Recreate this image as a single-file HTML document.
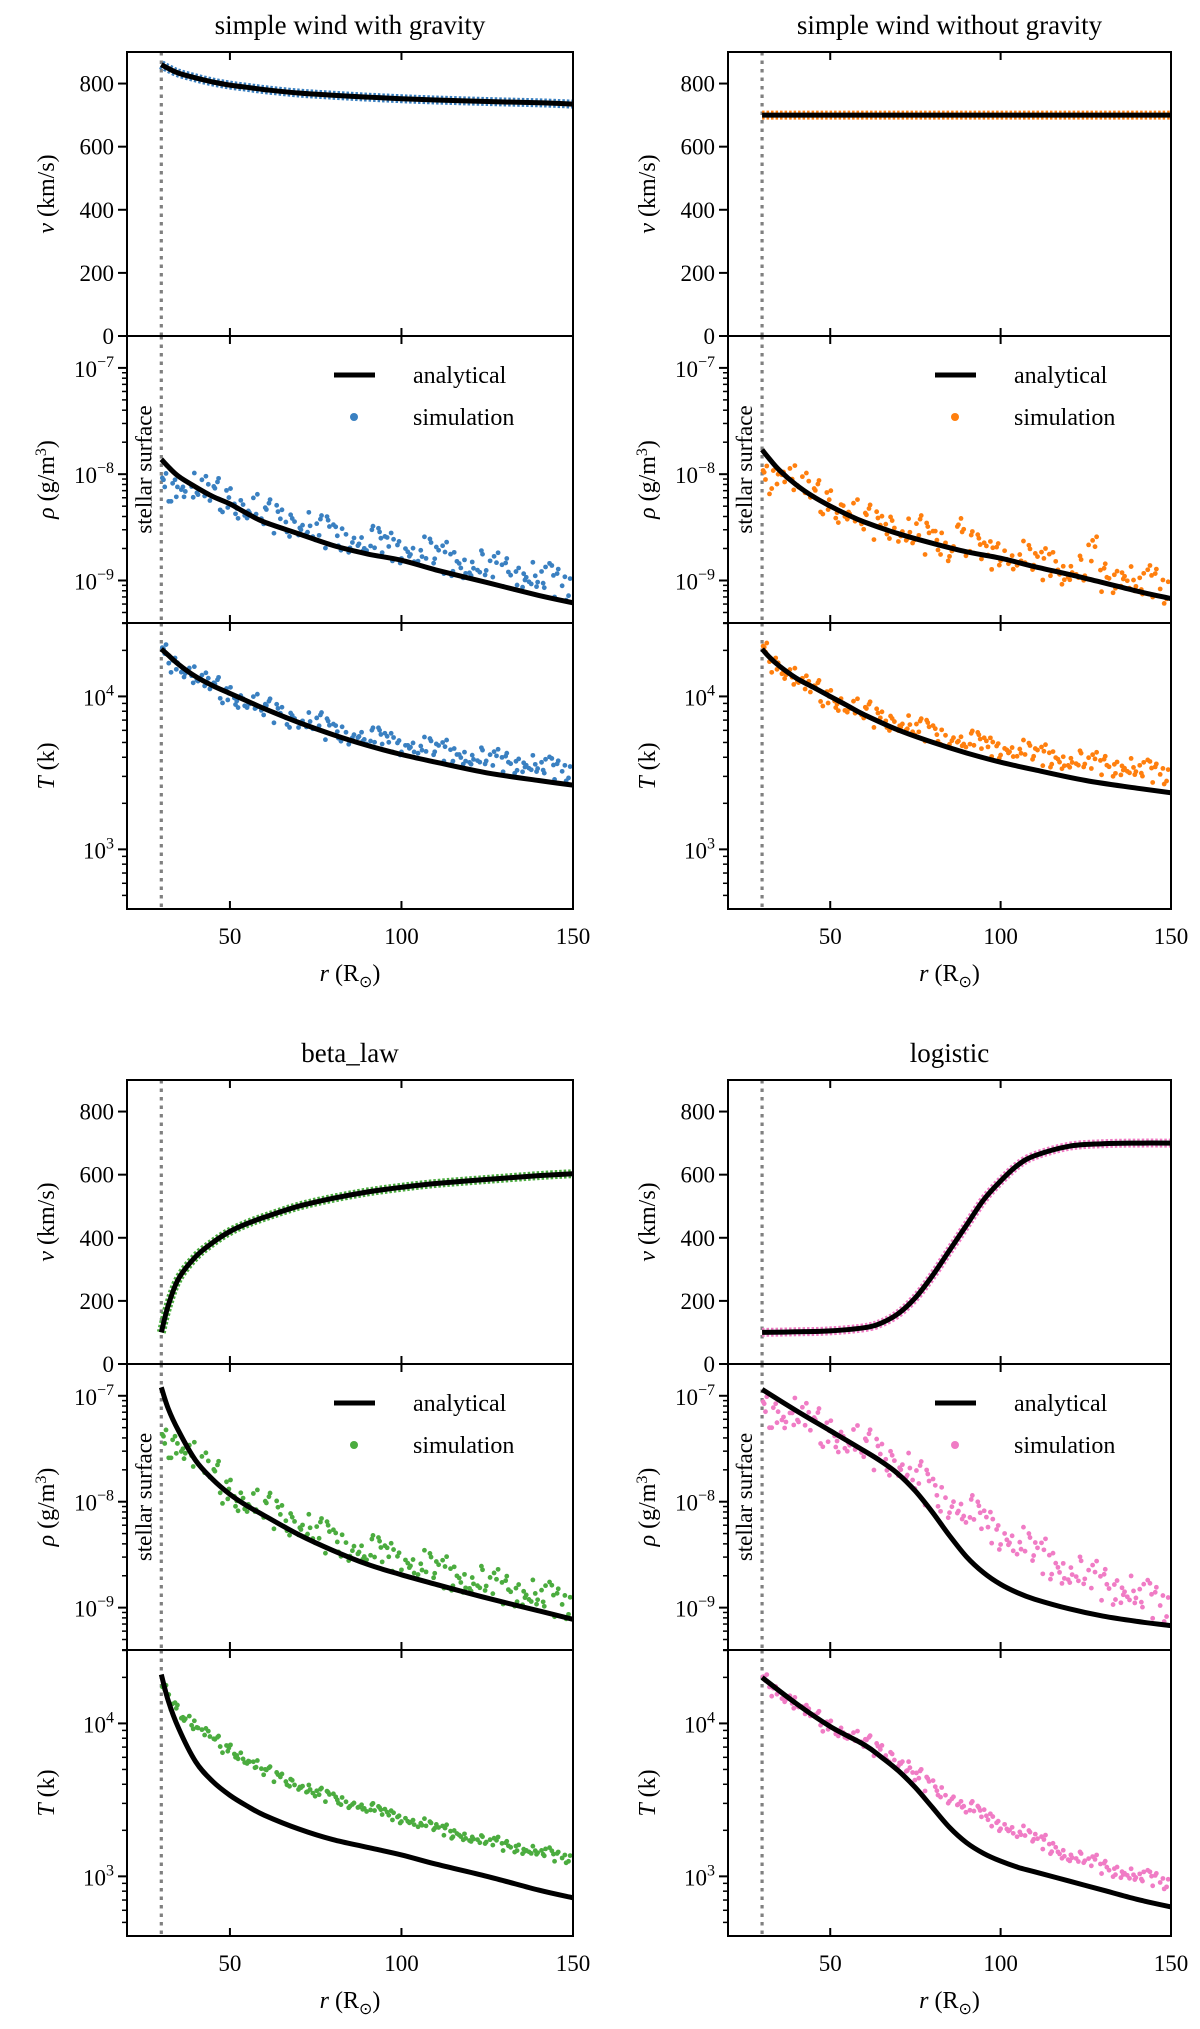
<!DOCTYPE html>
<html><head><meta charset="utf-8"><style>
html,body{margin:0;padding:0;background:#fff}
svg{display:block;font-family:"Liberation Serif",serif}
</style></head><body>
<svg id="fig" width="1200" height="2029" viewBox="0 0 1200 2029" xmlns="http://www.w3.org/2000/svg"></svg>
<script>
// ---------- data ----------
const curveR = [30,32,35,40,45,50,55,60,70,80,90,100,110,125,140,150];
const curveRLogistic = [30,40,50,60,65,70,75,80,85,90,95,100,105,110,120,130,140,150];
// column 1: gravity
const vGrav   = [860,848,833,818,805,795,788,781,770,763,757,752,748,743,739,735];
const rhoGrav = [-7.86,-7.93,-8.02,-8.12,-8.21,-8.28,-8.37,-8.45,-8.56,-8.67,-8.75,-8.81,-8.9,-9.02,-9.14,-9.21];
const tGrav   = [4.31,4.27,4.21,4.13,4.07,4.02,3.97,3.92,3.83,3.75,3.68,3.62,3.57,3.5,3.45,3.42];
// column 2: no gravity
const vNoGrav   = [700,700,700,700,700,700,700,700,700,700,700,700,700,700,700,700];
const rhoNoGrav = [-7.77,-7.85,-7.96,-8.1,-8.21,-8.3,-8.38,-8.45,-8.56,-8.65,-8.73,-8.79,-8.87,-8.98,-9.1,-9.17];
const tNoGrav   = [4.31,4.26,4.2,4.12,4.06,4.0,3.94,3.88,3.78,3.7,3.63,3.57,3.52,3.45,3.4,3.37];
// column 3: beta law
const vBeta   = [100,185,270,340,385,420,445,465,500,525,545,560,572,585,597,603];
const rhoBeta = [-6.92,-7.12,-7.33,-7.61,-7.79,-7.93,-8.04,-8.13,-8.31,-8.46,-8.59,-8.69,-8.78,-8.91,-9.03,-9.11];
const tBeta   = [4.32,4.15,3.97,3.75,3.62,3.53,3.46,3.40,3.31,3.24,3.19,3.14,3.08,3.0,2.91,2.86];
// column 4: logistic (on curveRLogistic)
const vLog   = [100,102,105,115,130,160,210,280,360,440,520,580,630,660,690,698,700,700];
const rhoLog = [-6.94,-7.14,-7.33,-7.52,-7.62,-7.74,-7.9,-8.1,-8.32,-8.52,-8.67,-8.78,-8.86,-8.92,-9.01,-9.08,-9.13,-9.17];
const tLog   = [4.30,4.13,3.98,3.86,3.78,3.69,3.58,3.45,3.32,3.22,3.15,3.10,3.06,3.03,2.97,2.91,2.85,2.80];
// simulation samples
const simR = [31,34,37,40,43,46,49,52,55,58,61,64,67,70,73,76,79,82,85,88,91,94,97,100,103,106,109,112,115,118,121,124,127,130,133,136,139,142,145,148];
const rhoSimGrav = [-8.12,-8.12,-8.12,-8.15,-8.18,-8.2,-8.22,-8.28,-8.32,-8.35,-8.4,-8.42,-8.45,-8.48,-8.52,-8.55,-8.56,-8.58,-8.6,-8.63,-8.65,-8.67,-8.68,-8.7,-8.73,-8.75,-8.77,-8.8,-8.82,-8.84,-8.86,-8.88,-8.9,-8.92,-8.95,-8.97,-8.99,-9.0,-9.02,-9.05];
const rhoSimNoGrav = [-8.05,-8.0,-7.98,-8.08,-8.15,-8.22,-8.24,-8.32,-8.33,-8.4,-8.45,-8.48,-8.47,-8.54,-8.58,-8.55,-8.62,-8.62,-8.68,-8.45,-8.7,-8.73,-8.76,-8.72,-8.8,-8.79,-8.83,-8.86,-8.82,-8.9,-8.9,-8.93,-8.75,-8.97,-8.98,-8.96,-9.03,-9.06,-9.02,-9.08];
const tSimGrav = [4.28,4.22,4.17,4.12,4.08,4.05,4.02,3.99,3.97,3.94,3.91,3.89,3.86,3.84,3.82,3.82,3.78,3.77,3.75,3.75,3.72,3.72,3.70,3.68,3.68,3.66,3.65,3.64,3.62,3.62,3.60,3.59,3.58,3.57,3.56,3.55,3.54,3.53,3.52,3.51];
const tSimNoGrav = [4.29,4.22,4.16,4.11,4.06,4.03,4.0,3.97,3.94,3.91,3.89,3.86,3.84,3.82,3.8,3.78,3.77,3.75,3.73,3.72,3.7,3.69,3.67,3.66,3.65,3.64,3.62,3.61,3.6,3.59,3.58,3.57,3.56,3.55,3.54,3.53,3.52,3.51,3.5,3.49];
const rhoSimBeta = [-7.45,-7.45,-7.5,-7.6,-7.7,-7.78,-7.88,-7.95,-8.0,-8.05,-8.08,-8.12,-8.18,-8.22,-8.28,-8.32,-8.35,-8.38,-8.42,-8.45,-8.48,-8.5,-8.52,-8.55,-8.58,-8.62,-8.65,-8.68,-8.7,-8.72,-8.75,-8.77,-8.8,-8.83,-8.85,-8.88,-8.9,-8.92,-8.95,-8.97];
const tSimBeta = [4.22,4.12,4.04,3.98,3.93,3.88,3.84,3.8,3.76,3.72,3.68,3.65,3.62,3.59,3.56,3.54,3.52,3.5,3.48,3.46,3.44,3.42,3.4,3.38,3.36,3.34,3.32,3.3,3.28,3.27,3.25,3.23,3.22,3.2,3.19,3.17,3.16,3.15,3.13,3.12];
const rhoSimLog = [-7.15,-7.15,-7.2,-7.2,-7.25,-7.3,-7.33,-7.38,-7.42,-7.46,-7.5,-7.55,-7.6,-7.65,-7.72,-7.8,-7.88,-7.94,-8.0,-8.06,-8.12,-8.18,-8.24,-8.3,-8.36,-8.42,-8.48,-8.53,-8.58,-8.62,-8.66,-8.7,-8.74,-8.78,-8.82,-8.85,-8.88,-8.92,-8.95,-8.98];
const tSimLog = [4.28,4.22,4.17,4.12,4.07,4.03,3.99,3.96,3.93,3.9,3.87,3.83,3.79,3.75,3.7,3.65,3.6,3.56,3.52,3.48,3.44,3.41,3.37,3.34,3.31,3.28,3.25,3.22,3.19,3.16,3.13,3.11,3.09,3.06,3.04,3.02,3.0,2.99,2.98,2.96];
const titles = ["simple wind with gravity","simple wind without gravity","beta_law","logistic"];
const xTicks = [50,100,150];
const vTicks = [0,200,400,600,800];

// ---------- layout ----------
const NS="http://www.w3.org/2000/svg";
const svg=document.getElementById('fig');
function el(tag,attrs,parent,text){const e=document.createElementNS(NS,tag);for(const k in attrs)e.setAttribute(k,attrs[k]);if(text!==undefined)e.textContent=text;(parent||svg).appendChild(e);return e;}
const cols=[[127,573],[728,1171]];
const groups=[[52,336,623,909],[1080,1364,1650,1936]];
const X=[20,150], VD=[0,900], RD=[-9.4,-6.7], TD=[2.61,4.48];
const panelsDef=[
 {c:0,g:0,title:titles[0],color:'#3a80c1',r:curveR,v:vGrav,rho:rhoGrav,t:tGrav,rs:rhoSimGrav,ts:tSimGrav,sr:9,st:6},
 {c:1,g:0,title:titles[1],color:'#ff7f0e',r:curveR,v:vNoGrav,rho:rhoNoGrav,t:tNoGrav,rs:rhoSimNoGrav,ts:tSimNoGrav,sr:9,st:6},
 {c:0,g:1,title:titles[2],color:'#4bac3f',r:curveR,v:vBeta,rho:rhoBeta,t:tBeta,rs:rhoSimBeta,ts:tSimBeta,sr:9,st:3},
 {c:1,g:1,title:titles[3],color:'#f07cc5',r:curveRLogistic,v:vLog,rho:rhoLog,t:tLog,rs:rhoSimLog,ts:tSimLog,sr:10,st:4},
];
const JY=[0,-1,0.8,-0.4,1.6,-1.5,0.3,1.1,-0.8,-1.9,0.5];
const JX=[0,1.5,-1.5,2.5,-2.5,0.8,-0.8];

function curvePath(pts){
  let d='M'+pts[0][0].toFixed(1)+','+pts[0][1].toFixed(1);
  for(let i=0;i<pts.length-1;i++){
    const p0=pts[Math.max(0,i-1)],p1=pts[i],p2=pts[i+1],p3=pts[Math.min(pts.length-1,i+2)];
    const c1=[p1[0]+(p2[0]-p0[0])/6,p1[1]+(p2[1]-p0[1])/6];
    const c2=[p2[0]-(p3[0]-p1[0])/6,p2[1]-(p3[1]-p1[1])/6];
    d+=' C'+c1.map(v=>v.toFixed(1)).join(',')+' '+c2.map(v=>v.toFixed(1)).join(',')+' '+p2.map(v=>v.toFixed(1)).join(',');
  }
  return d;
}

panelsDef.forEach((P,pi)=>{
  const [x0,x1]=cols[P.c]; const G=groups[P.g];
  const sx=r=>x0+(r-X[0])/(X[1]-X[0])*(x1-x0);
  const tt=el('text',{x:(x0+x1)/2,y:G[0]-18,'text-anchor':'middle','font-size':27},svg,P.title);
  
  
  const kinds=[['v',VD,P.v,null,0],['rho',RD,P.rho,P.rs,P.sr],['t',TD,P.t,P.ts,P.st]];
  kinds.forEach((K,ki)=>{
    const [kind,D,vals,sim,spread]=K; const top=G[ki], bot=G[ki+1];
    const sy=v=>bot-(v-D[0])/(D[1]-D[0])*(bot-top);
    const g=el('g',{});
    
    
    const clipId='clip'+pi+ki;
    const cp=el('clipPath',{id:clipId},g); el('rect',{x:x0,y:top,width:x1-x0,height:bot-top},cp);
    const sl=el('line',{x1:sx(30),x2:sx(30),y1:top,y2:bot,stroke:'#808080','stroke-width':3.2,'stroke-dasharray':'3.5,5'},g);
    
    
    const data=el('g',{'clip-path':'url(#'+clipId+')'},g);
    const pts=P.r.map((r,i)=>[sx(r),sy(vals[i])]);
    if(kind==='v'){
      const halo=el('path',{d:curvePath(pts),fill:'none',stroke:P.color,'stroke-width':9,'stroke-dasharray':'2.5,2'},data);
      
      
    } else {
      simR.forEach((r,i)=>{
        for(let j=0;j<5;j++){
          const c=el('circle',{cx:sx(r)+JX[(i*2+j*3)%7]*1.6,cy:sy(sim[i])+spread*JY[(i*3+j*4)%11],r:2.4,fill:P.color},data);
          
          
        }
      });
    }
    const line=el('path',{d:curvePath(pts),fill:'none',stroke:'#000','stroke-width':5},data);
    
    
    el('rect',{x:x0,y:top,width:x1-x0,height:bot-top,fill:'none',stroke:'#000','stroke-width':2},g);
    xTicks.forEach(t=>{
      el('line',{x1:sx(t),x2:sx(t),y1:top,y2:top+8,stroke:'#000','stroke-width':2},g);
      el('line',{x1:sx(t),x2:sx(t),y1:bot,y2:bot-8,stroke:'#000','stroke-width':2},g);
    });
    if(kind==='v'){
      vTicks.forEach(t=>{
        el('line',{x1:x0-9,x2:x0,y1:sy(t),y2:sy(t),stroke:'#000','stroke-width':2},g);
        el('text',{x:x0-13,y:sy(t)+8,'text-anchor':'end','font-size':23},g,String(t));
      });
      const yl=el('text',{transform:`translate(${x0-73},${(top+bot)/2}) rotate(-90)`,'text-anchor':'middle','font-size':24},g);
      
      
      el('tspan',{'font-style':'italic'},yl,'v');el('tspan',{},yl,' (km/s)');
    } else {
      const majors = kind==='rho'?[-9,-8,-7]:[3,4];
      for(let n=Math.floor(D[0]);n<=Math.ceil(D[1]);n++){
        for(let m=1;m<10;m++){
          const lv=n+Math.log10(m); if(lv<D[0]||lv>D[1])continue;
          el('line',{x1:x0-(m===1?9:5),x2:x0,y1:sy(lv),y2:sy(lv),stroke:'#000','stroke-width':m===1?2:1.5},g);
        }
      }
      majors.forEach(n=>{
        const tx=el('text',{x:x0-13,y:sy(n)+9,'text-anchor':'end','font-size':23},g);
        el('tspan',{},tx,'10');el('tspan',{dy:-10,'font-size':16},tx,String(n).replace('-','−'));
      });
      const yl=el('text',{transform:`translate(${x0-73},${(top+bot)/2}) rotate(-90)`,'text-anchor':'middle','font-size':24},g);
      
      
      if(kind==='rho'){el('tspan',{'font-style':'italic'},yl,'ρ');el('tspan',{},yl,' (g/m');el('tspan',{dy:-8,'font-size':16},yl,'3');el('tspan',{dy:8},yl,')');}
      else {el('tspan',{'font-style':'italic'},yl,'T');el('tspan',{},yl,' (k)');}
    }
    if(kind==='rho'){
      const st=el('text',{transform:`translate(${sx(30)-10},${(top+bot)/2-10}) rotate(-90)`,'text-anchor':'middle','font-size':23},g,'stellar surface');
      
      
      const lg=el('g',{},g);
      
      
      el('line',{x1:x0+207,x2:x0+248,y1:top+39,y2:top+39,stroke:'#000','stroke-width':5},lg);
      el('text',{x:x0+286,y:top+47,'font-size':24},lg,'analytical');
      el('circle',{cx:x0+227,cy:top+81,r:4,fill:P.color},lg);
      el('text',{x:x0+286,y:top+89,'font-size':24},lg,'simulation');
    }
    if(kind==='t'){
      xTicks.forEach(t=>{
        el('text',{x:sx(t),y:bot+35,'text-anchor':'middle','font-size':23},g,String(t));
      });
      const xl=el('text',{x:(x0+x1)/2,y:bot+72,'text-anchor':'middle','font-size':24},g);
      
      
      el('tspan',{'font-style':'italic'},xl,'r');el('tspan',{},xl,' (R');el('tspan',{dy:6,'font-size':16},xl,'⊙');el('tspan',{dy:-6},xl,')');
    }
  });
});
</script>
</body></html>
